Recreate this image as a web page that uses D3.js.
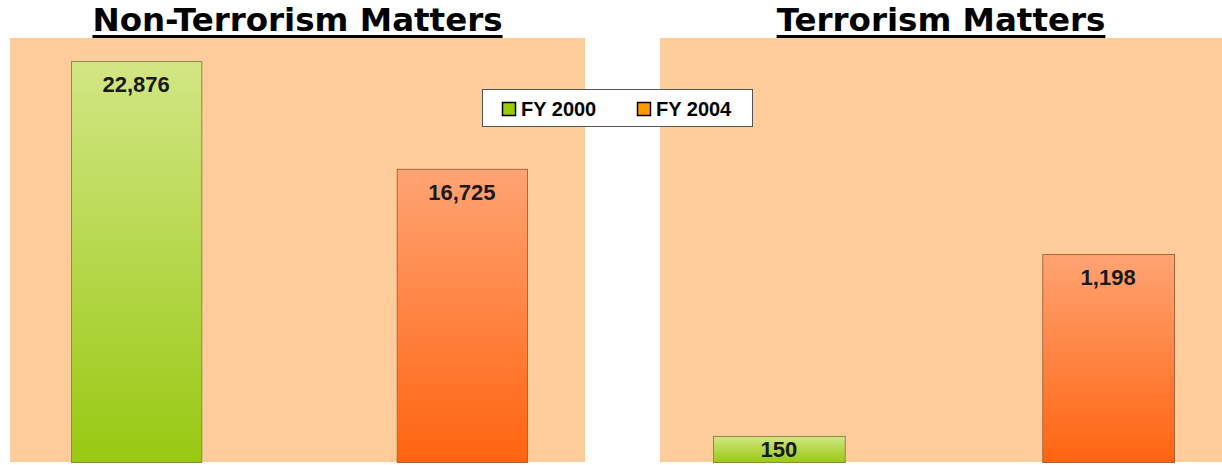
<!DOCTYPE html>
<html>
<head>
<meta charset="utf-8">
<script src="https://cdn.jsdelivr.net/npm/d3@7"></script>
<style>
  body { margin: 0; background: #fff; }
  svg { display: block; }
</style>
</head>
<body>
<svg id="chart" width="1222" height="465"></svg>
<script>
var categories = ["FY 2000", "FY 2004"];
var nonTerrorismValues = [22876, 16725];
var terrorismValues = [150, 1198];
var panelTitles = ["Non-Terrorism Matters", "Terrorism Matters"];

var svg = d3.select("#chart");
var fmt = d3.format(",");

var gradColors = {
    "FY 2000": {top: "#d2e684", bottom: "#98c912", stroke: "#8c8a45"},
    "FY 2004": {top: "#ffa373", bottom: "#ff6410", stroke: "#a8683e"}
};

var defs = svg.append("defs");
categories.forEach(function (c, i) {
    var g = defs.append("linearGradient")
        .attr("id", "grad" + i)
        .attr("x1", 0).attr("y1", 0).attr("x2", 0).attr("y2", 1);
    g.append("stop").attr("offset", "0%").attr("stop-color", gradColors[c].top);
    g.append("stop").attr("offset", "100%").attr("stop-color", gradColors[c].bottom);
});

var panels = [
    {title: panelTitles[0], values: nonTerrorismValues, x0: 10, x1: 585, max: 24190, band: [71, 527]},
    {title: panelTitles[1], values: terrorismValues, x0: 660, x1: 1222, max: 2442, band: [713, 1174]}
];

var plotTop = 38, plotBottom = 462;

panels.forEach(function (p) {
    var g = svg.append("g");

    g.append("rect")
        .attr("x", p.x0).attr("y", plotTop)
        .attr("width", p.x1 - p.x0).attr("height", plotBottom - plotTop)
        .attr("fill", "#fecb9a");

    var x = d3.scaleBand()
        .domain(categories)
        .range(p.band)
        .paddingInner(0.6)
        .paddingOuter(0);

    var y = d3.scaleLinear()
        .domain([0, p.max])
        .range([plotBottom, plotTop]);

    var data = categories.map((c, i) => ({k: c, i: i, val: p.values[i]}));

    g.selectAll(".bar")
        .data(data)
        .enter().append("rect")
        .attr("class", "bar")
        .attr("x", d => x(d.k) + 0.5)
        .attr("y", d => y(d.val) + 0.5)
        .attr("width", x.bandwidth())
        .attr("height", d => plotBottom - y(d.val))
        .attr("fill", d => "url(#grad" + d.i + ")")
        .attr("stroke", d => gradColors[d.k].stroke)
        .attr("stroke-width", 1);

    g.selectAll(".lbl")
        .data(data)
        .enter().append("text")
        .attr("class", "lbl")
        .attr("x", d => x(d.k) + x.bandwidth() / 2)
        .attr("y", function (d) {
            var h = plotBottom - y(d.val);
            return h < 40 ? y(d.val) + h / 2 + 8 : y(d.val) + 31;
        })
        .attr("text-anchor", "middle")
        .attr("font-family", "Liberation Sans, Arial, sans-serif")
        .attr("font-weight", "bold")
        .attr("font-size", "22px")
        .attr("fill", "#1a1a1a")
        .text(d => fmt(d.val));

    var cx = (p.x0 + p.x1) / 2;
    var t = svg.append("text")
        .attr("x", cx)
        .attr("y", 31)
        .attr("text-anchor", "middle")
        .attr("font-family", "DejaVu Sans, Verdana, sans-serif")
        .attr("font-weight", "bold")
        .attr("font-size", "32.5px")
        .attr("fill", "#000")
        .text(p.title);
    var w = t.node().getComputedTextLength();
    svg.append("rect")
        .attr("x", cx - w / 2).attr("y", 35)
        .attr("width", w).attr("height", 3)
        .attr("fill", "#000");
});

// legend
var legend = svg.append("g").attr("transform", "translate(482,89)");
legend.append("rect")
    .attr("x", 0.5).attr("y", 0.5)
    .attr("width", 270).attr("height", 37)
    .attr("fill", "#fff")
    .attr("stroke", "#555");

var item = legend.selectAll(".item")
    .data(categories)
    .enter().append("g")
    .attr("class", "item")
    .attr("transform", (d, i) => "translate(" + (20 + i * 135) + ",0)");

item.append("rect")
    .attr("x", 0.5).attr("y", 13.5)
    .attr("width", 13).attr("height", 13)
    .attr("fill", (d, i) => i === 0 ? "#99cc00" : "#ff9900")
    .attr("stroke", "#000")
    .attr("stroke-width", 1.5);

item.append("text")
    .attr("x", 19)
    .attr("y", 27)
    .attr("font-family", "Liberation Sans, Arial, sans-serif")
    .attr("font-weight", "bold")
    .attr("font-size", "20px")
    .attr("fill", "#000")
    .text(d => d);
</script>
</body>
</html>
